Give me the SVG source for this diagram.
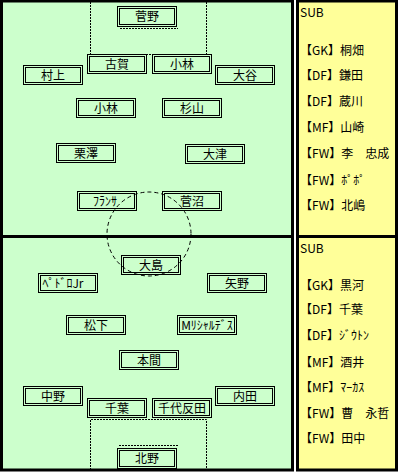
<svg xmlns="http://www.w3.org/2000/svg" width="401" height="476" viewBox="0 0 401 476">
<style>
.frame{stroke:#000;stroke-width:3;}
.box{fill:none;stroke:#000;stroke-width:1;}
.t{font-family:"Noto Sans CJK JP","Noto Sans",sans-serif;font-size:12px;fill:#000;text-anchor:middle;}
.s{font-family:"Noto Sans CJK JP","Noto Sans",sans-serif;font-size:12px;fill:#000;}
.dash{fill:none;stroke:#000;stroke-width:1;stroke-dasharray:2 1;}
.circ{fill:none;stroke:#000;stroke-width:1;stroke-dasharray:4 3;}
</style>
<rect x="0" y="0" width="401" height="476" fill="#ffffff"/>
<g id="field">
<rect class="frame" x="1.5" y="1" width="291" height="469" fill="#CCFFCC"/>
<line class="frame" x1="1.5" y1="236.5" x2="292.5" y2="236.5"/>
</g>
<g id="subs-panel">
<rect class="frame" x="297.5" y="1" width="99" height="469" fill="#FFFF99"/>
<line class="frame" x1="297.5" y1="236.5" x2="396.5" y2="236.5"/>
<text class="s" x="300" y="17">SUB</text>
<text class="s" x="300" y="54.5">【GK】桐畑</text>
<text class="s" x="300" y="79.5">【DF】鎌田</text>
<text class="s" x="300" y="105.5">【DF】蔵川</text>
<text class="s" x="300" y="131.5">【MF】山崎</text>
<text class="s" x="300" y="157.5">【FW】李　忠成</text>
<text class="s" x="300" y="184.5">【FW】ﾎﾟﾎﾟ</text>
<text class="s" x="300" y="209.5">【FW】北嶋</text>
<text class="s" x="300" y="252.5">SUB</text>
<text class="s" x="300" y="289.5">【GK】黒河</text>
<text class="s" x="300" y="313.5">【DF】千葉</text>
<text class="s" x="300" y="339.5">【DF】ｼﾞｳﾄﾝ</text>
<text class="s" x="300" y="366.5">【MF】酒井</text>
<text class="s" x="300" y="391.5">【MF】ﾏｰｶｽ</text>
<text class="s" x="300" y="417.5">【FW】曹　永哲</text>
<text class="s" x="300" y="442.5">【FW】田中</text>
</g>
<g id="connectors">
<polyline class="dash" points="90.5,2 90.5,54.5 206.5,54.5 206.5,2"/>
<line class="dash" x1="120" y1="28.5" x2="178" y2="28.5"/>
<polyline class="dash" points="90.5,470 90.5,419.5 206.5,419.5 206.5,470"/>
<line class="dash" x1="119" y1="445.5" x2="178" y2="445.5"/>
</g>
<g id="n-kanno"><rect class="box" x="117.5" y="6.5" width="59" height="20"/><rect class="box" x="119.5" y="8.5" width="55" height="16"/><text class="t" x="147" y="21">菅野</text></g>
<g id="n-koga"><rect class="box" x="87.5" y="54.5" width="59" height="19"/><rect class="box" x="89.5" y="56.5" width="55" height="15"/><text class="t" x="117" y="68.5">古賀</text></g>
<g id="n-kobayashi1"><rect class="box" x="152.5" y="54.5" width="59" height="19"/><rect class="box" x="154.5" y="56.5" width="55" height="15"/><text class="t" x="182" y="68.5">小林</text></g>
<g id="n-murakami"><rect class="box" x="23.5" y="65.5" width="59" height="19"/><rect class="box" x="25.5" y="67.5" width="55" height="15"/><text class="t" x="53" y="79.5">村上</text></g>
<g id="n-ohtani"><rect class="box" x="215.5" y="65.5" width="59" height="19"/><rect class="box" x="217.5" y="67.5" width="55" height="15"/><text class="t" x="245" y="79.5">大谷</text></g>
<g id="n-kobayashi2"><rect class="box" x="76.5" y="98.5" width="59" height="19"/><rect class="box" x="78.5" y="100.5" width="55" height="15"/><text class="t" x="106" y="112.5">小林</text></g>
<g id="n-sugiyama"><rect class="box" x="162.5" y="98.5" width="59" height="19"/><rect class="box" x="164.5" y="100.5" width="55" height="15"/><text class="t" x="192" y="112.5">杉山</text></g>
<g id="n-kurisawa"><rect class="box" x="56.5" y="143.5" width="59" height="19"/><rect class="box" x="58.5" y="145.5" width="55" height="15"/><text class="t" x="86" y="157.5">栗澤</text></g>
<g id="n-ohtsu"><rect class="box" x="185.5" y="144.5" width="59" height="19"/><rect class="box" x="187.5" y="146.5" width="55" height="15"/><text class="t" x="215" y="158.5">大津</text></g>
<g id="n-franca"><rect class="box" x="77.5" y="191.5" width="59" height="19"/><rect class="box" x="79.5" y="193.5" width="55" height="15"/><text class="t" x="105" y="205.5">ﾌﾗﾝｻ</text></g>
<g id="n-suganuma"><rect class="box" x="162.5" y="191.5" width="59" height="19"/><rect class="box" x="164.5" y="193.5" width="55" height="15"/><text class="t" x="192" y="205.5">菅沼</text></g>
<g id="n-oshima"><rect class="box" x="121.5" y="255.5" width="59" height="19"/><rect class="box" x="123.5" y="257.5" width="55" height="15"/><text class="t" x="151" y="269.5">大島</text></g>
<g id="n-pedro"><rect class="box" x="38.5" y="273.5" width="59" height="19"/><rect class="box" x="40.5" y="275.5" width="55" height="15"/><text class="t" x="63" y="287.5">ﾍﾟﾄﾞﾛJr</text></g>
<g id="n-yano"><rect class="box" x="207.5" y="273.5" width="59" height="19"/><rect class="box" x="209.5" y="275.5" width="55" height="15"/><text class="t" x="237" y="287.5">矢野</text></g>
<g id="n-matsushita"><rect class="box" x="66.5" y="315.5" width="59" height="19"/><rect class="box" x="68.5" y="317.5" width="55" height="15"/><text class="t" x="96" y="329.5">松下</text></g>
<g id="n-richardes"><rect class="box" x="177.5" y="315.5" width="59" height="19"/><rect class="box" x="179.5" y="317.5" width="55" height="15"/><text class="t" x="207" y="329.5">Mﾘｼｬﾙﾃﾞｽ</text></g>
<g id="n-honma"><rect class="box" x="119.5" y="350.5" width="59" height="19"/><rect class="box" x="121.5" y="352.5" width="55" height="15"/><text class="t" x="149" y="364.5">本間</text></g>
<g id="n-nakano"><rect class="box" x="23.5" y="386.5" width="59" height="19"/><rect class="box" x="25.5" y="388.5" width="55" height="15"/><text class="t" x="53" y="400.5">中野</text></g>
<g id="n-uchida"><rect class="box" x="215.5" y="386.5" width="59" height="19"/><rect class="box" x="217.5" y="388.5" width="55" height="15"/><text class="t" x="245" y="400.5">内田</text></g>
<g id="n-chiba"><rect class="box" x="87.5" y="398.5" width="59" height="19"/><rect class="box" x="89.5" y="400.5" width="55" height="15"/><text class="t" x="117" y="412.5">千葉</text></g>
<g id="n-chiyotanda"><rect class="box" x="152.5" y="398.5" width="59" height="19"/><rect class="box" x="154.5" y="400.5" width="55" height="15"/><text class="t" x="182" y="412.5">千代反田</text></g>
<g id="n-kitano"><rect class="box" x="117.5" y="448.5" width="59" height="20"/><rect class="box" x="119.5" y="450.5" width="55" height="16"/><text class="t" x="147" y="463">北野</text></g>
<g id="center-circle">
<circle class="circ" cx="149" cy="234" r="42"/>
</g>
</svg>
